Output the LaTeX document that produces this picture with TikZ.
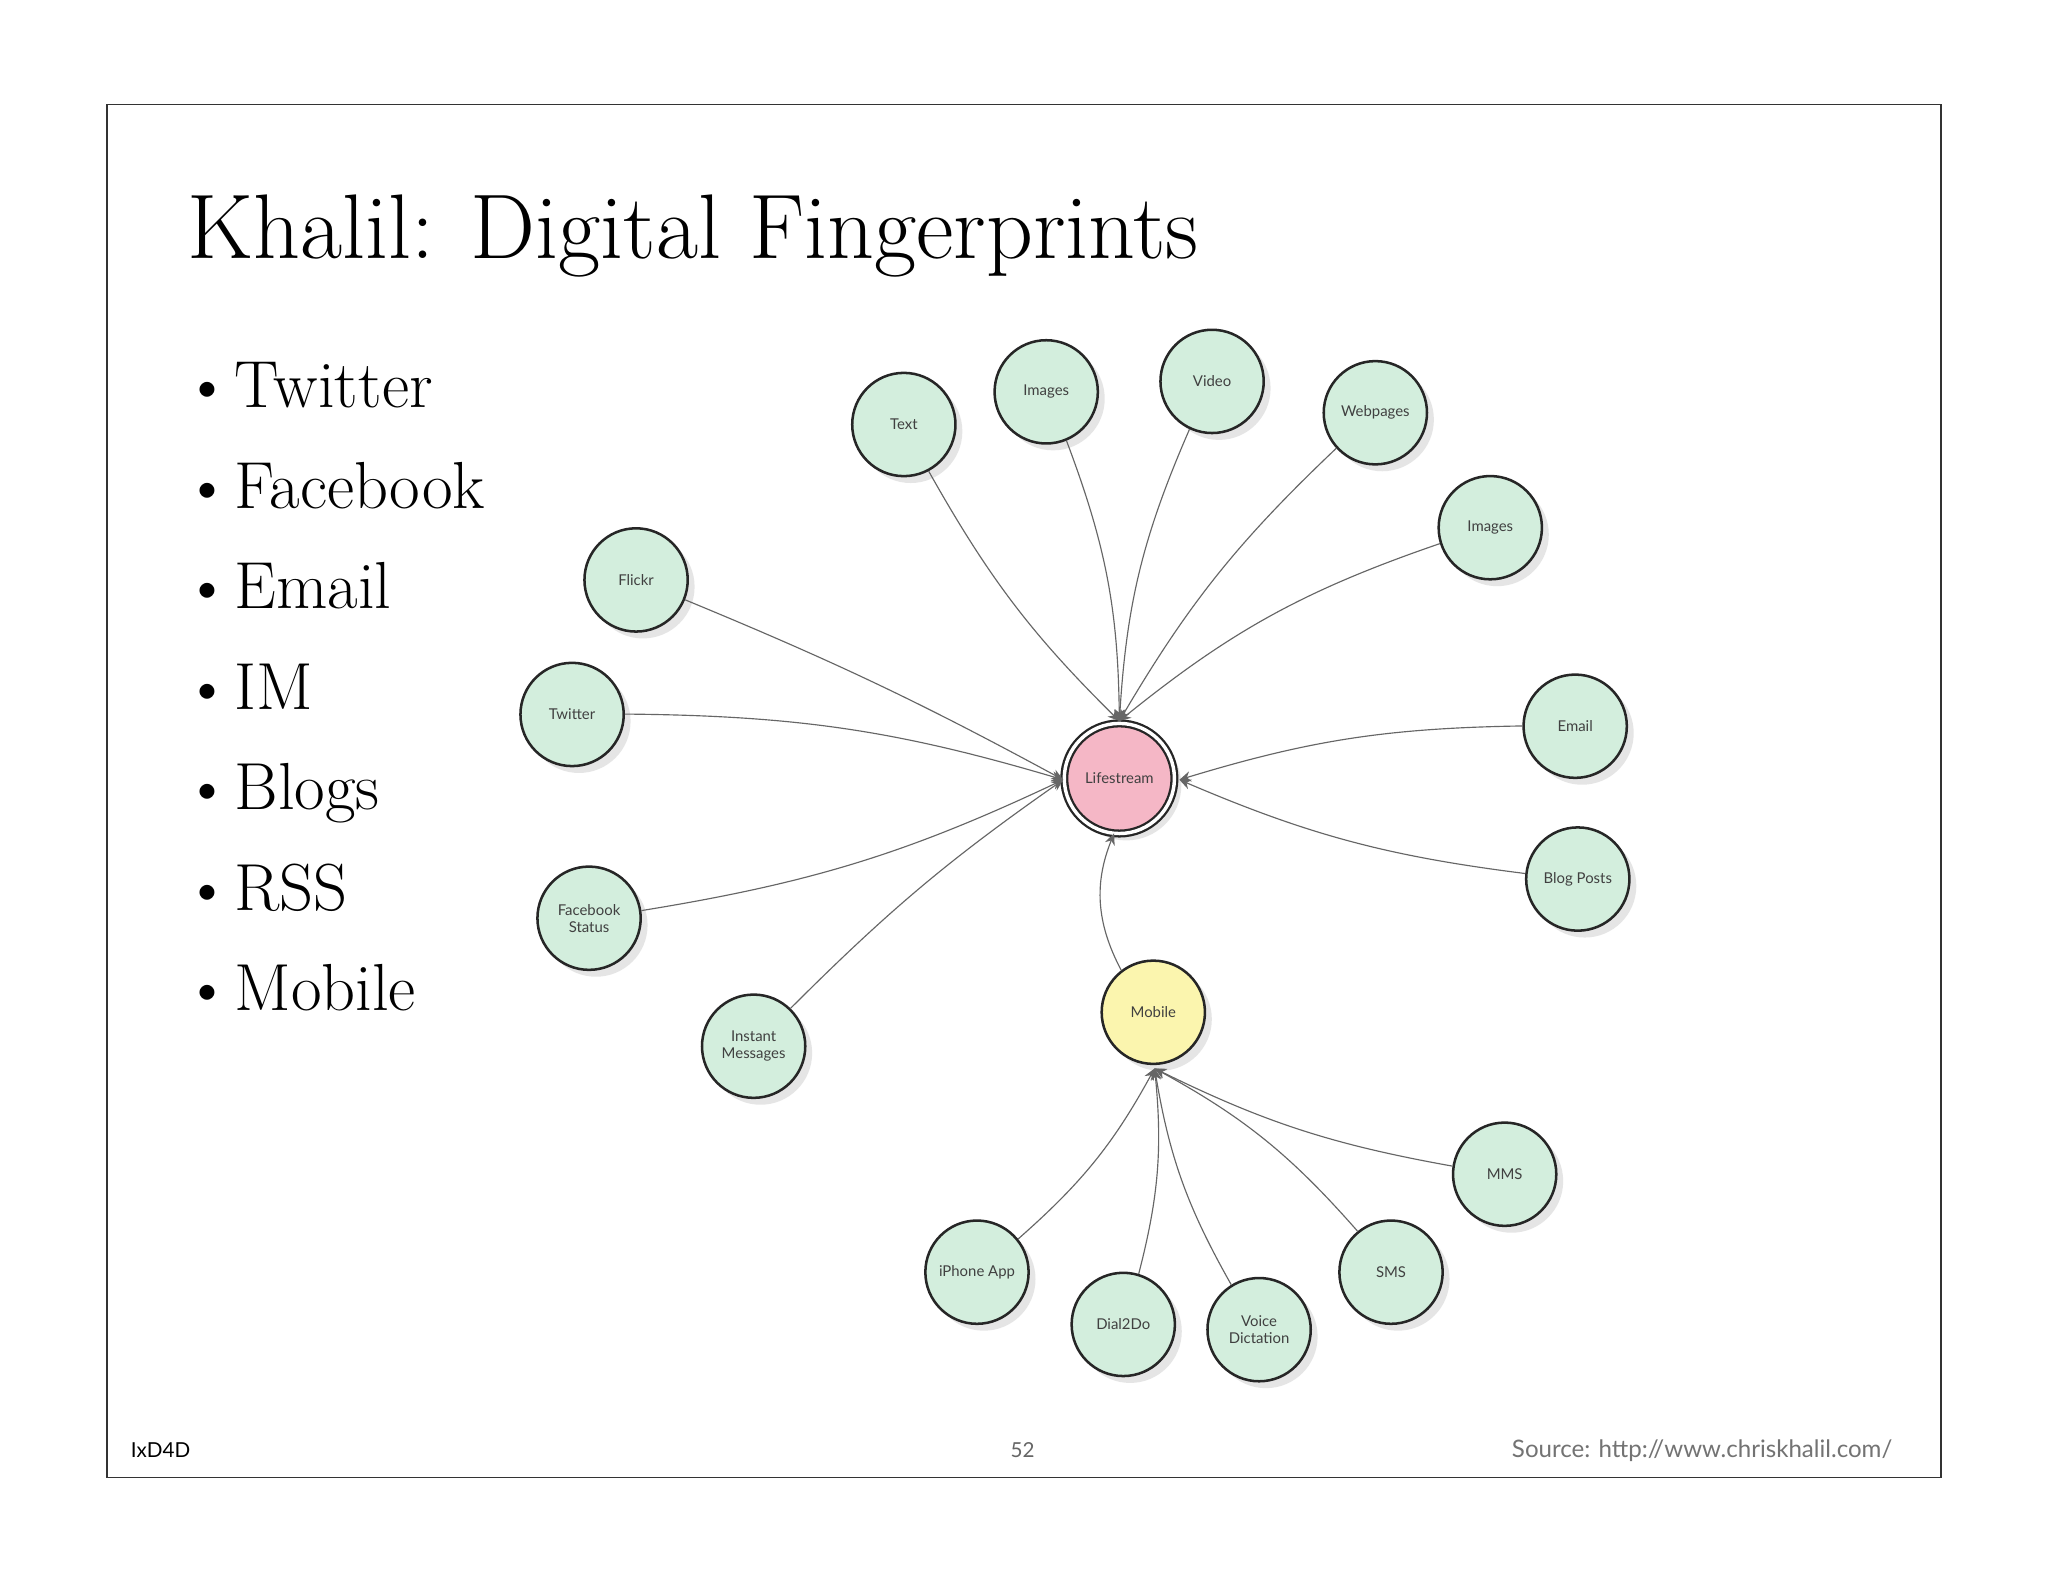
\documentclass[tikz,border=0pt]{standalone}
\usepackage{fontspec}
\setsansfont{Lato}
\usetikzlibrary{arrows.meta,shadows}
\definecolor{leaf}{HTML}{D3EEDD}
\definecolor{pinkc}{HTML}{F5B7C6}
\definecolor{yelc}{HTML}{FBF5AE}
\tikzset{
 circ/.style={circle,draw=black!85,line width=1.1pt,fill=leaf,minimum size=45pt,inner sep=0pt,align=center,
   font=\sffamily\fontsize{6.5}{7.5}\selectfont,text=black!75,drop shadow={shadow xshift=3pt,shadow yshift=-3pt,fill=black!20}},
 edge/.style={draw=black!60,line width=0.5pt},
 arr/.style={edge,-{Stealth[length=5pt,width=4.5pt]}}
}
\begin{document}
\begin{tikzpicture}[x=0.02cm,y=-0.02cm]
\useasboundingbox (0,0) rectangle (1568,1211);
\fill[white] (0,0) rectangle (1568,1211);
\draw[black!80,line width=0.6pt] (82,80) rectangle (1486,1131);
\node[anchor=base west,inner sep=0pt,font=\fontsize{40}{44}\selectfont] (title) at (143,198) {Khalil: Digital Fingerprints};
\foreach \t [count=\i] in {Twitter,Facebook,Email,IM,Blogs,RSS,Mobile}{
 \node[anchor=base west,inner sep=0pt,font=\fontsize{29}{32}\selectfont] (b\i) at (140,312+\i*77-77) {\textbullet\hspace{0.05em}\t};
}
\node[anchor=base west,font=\sffamily\fontsize{9}{11}\selectfont] (f1) at (94,1116) {IxD4D};
\node[anchor=base,font=\sffamily\fontsize{9}{11}\selectfont,text=black!60] (f2) at (783,1116) {52};
\node[anchor=base east,font=\sffamily\fontsize{10.5}{12}\selectfont,text=black!55] (f3) at (1455,1116) {Source: http://www.chriskhalil.com/};

\node[circ] (text) at (692,325) {Text};
\node[circ] (img1) at (801,300) {Images};
\node[circ] (video) at (928,292) {Video};
\node[circ] (web) at (1053,316) {Webpages};
\node[circ] (img2) at (1141,404) {Images};
\node[circ] (flickr) at (487,444) {Flickr};
\node[circ] (tw) at (438,547) {Twitter};
\node[circ] (email) at (1206,556) {Email};
\node[circ] (blog) at (1208,673) {Blog Posts};
\node[circ] (fb) at (451,703) {Facebook\\Status};
\node[circ] (im) at (577,801) {Instant\\Messages};
\node[circ,fill=yelc] (mob) at (883,775) {Mobile};
\node[circ] (mms) at (1152,899) {MMS};
\node[circ] (iph) at (748,974) {iPhone App};
\node[circ] (sms) at (1065,974) {SMS};
\node[circ] (dial) at (860,1014) {Dial2Do};
\node[circ] (voice) at (964,1018) {Voice\\Dictation};
\node[circ,fill=pinkc,minimum size=48pt,double=white,double distance=1.5pt,line width=1pt] (life) at (857,596) {Lifestream};

\coordinate (lt) at (857,552);
\coordinate (ll) at (814,597);
\coordinate (lr) at (903,597);
\coordinate (lb) at (853,638);
\coordinate (mb) at (884,818);
\draw[arr] (text) to[bend right=8] (lt);
\draw[arr] (img1) to[bend left=10] (lt);
\draw[arr] (video) to[bend right=10] (lt);
\draw[arr] (web) to[bend right=8] (lt);
\draw[arr] (img2) to[bend right=10] (lt);
\draw[arr] (flickr) to[bend left=3] (ll);
\draw[arr] (tw) to[bend left=8] (ll);
\draw[arr] (fb) to[bend right=8] (ll);
\draw[arr] (im) to[bend left=5] (ll);
\draw[arr] (email) to[bend right=8] (lr);
\draw[arr] (blog) to[bend left=8] (lr);
\draw[arr] (mob) to[bend left=25] (lb);
\draw[arr] (mms) to[bend left=8] (mb);
\draw[arr] (iph) to[bend right=10] (mb);
\draw[arr] (sms) to[bend right=10] (mb);
\draw[arr] (dial) to[bend right=10] (mb);
\draw[arr] (voice) to[bend left=10] (mb);
\end{tikzpicture}
\end{document}
